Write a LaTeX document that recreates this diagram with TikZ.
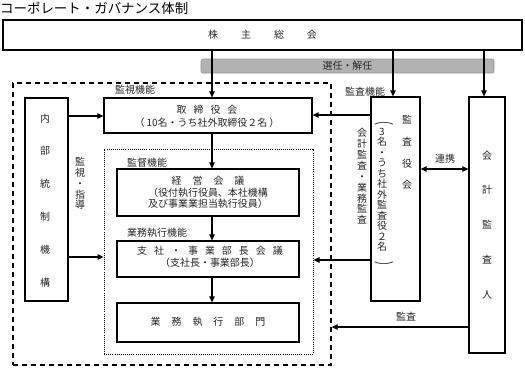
\documentclass[tikz,border=0pt]{standalone}
\usepackage{fontspec}
\usepackage{graphicx}
\setmainfont{Noto Sans CJK JP}
\usetikzlibrary{arrows.meta}
\begin{document}
\begin{tikzpicture}[x=1bp,y=-1bp,
  box/.style={draw=black, line width=1.3bp, inner sep=0pt, fill=white},
  frame/.style={draw=black, inner sep=0pt},
  arr/.style={line width=1.1bp, -{Triangle[length=6bp,width=5.5bp]}},
  darr/.style={line width=1.1bp, {Triangle[length=6bp,width=5.5bp]}-{Triangle[length=6bp,width=5.5bp]}},
  txt/.style={font={\fontsize{10}{13}\selectfont}, text=black!85, inner sep=0pt, align=center},
  lbl/.style={font={\fontsize{10}{12}\selectfont}, text=black!85, inner sep=0pt},
]
\useasboundingbox (0,0) rectangle (525,367);

% title
\node[anchor=west, inner sep=0pt, font={\fontsize{13.5}{14}\selectfont}] (title) at (0,8) {コーポレート・ガバナンス体制};

% shareholders
\node[box, minimum width=519bp, minimum height=30bp] (kabu) at (262.5,35) {};
\node[txt] (kabutxt) at (262.5,35) {株\hspace{23bp}主\hspace{23bp}総\hspace{23bp}会};

% band
\node[fill=black!30, draw=black!42, line width=0.6bp, rounded corners=2bp, minimum width=293bp, minimum height=14bp, inner sep=0pt] (band) at (347.5,66) {};
\node[lbl] (bandtxt) at (347.5,66) {選任・解任};

% frames
\node[frame, dashed, line width=1.3bp, dash pattern=on 5bp off 4bp, minimum width=318bp, minimum height=282bp] (outer) at (172,224) {};
\node[frame, line width=1bp, dash pattern=on 1bp off 1.1bp, minimum width=209bp, minimum height=205bp] (inner) at (208.5,251.5) {};

% left column
\node[box, minimum width=43bp, minimum height=203bp] (naibu) at (46.5,199.5) {};
\node[txt, font={\fontsize{10}{33}\selectfont}] (naibutxt) at (45,200.5) {内\\部\\統\\制\\機\\構};
\node[txt, font={\fontsize{10}{10.8}\selectfont}] (kanshi) at (80,183.5) {監\\視\\・\\指\\導};

% centre column
\node[box, minimum width=208bp, minimum height=35bp] (tori) at (208,115.5) {};
\node[txt] (toritxt) at (207,116.5) {取\hspace{7bp}締\hspace{7bp}役\hspace{7bp}会\\（\hspace{2bp}10名・うち社外取締役２名\hspace{2bp}）};

\node[box, minimum width=182bp, minimum height=47bp] (keiei) at (208,192.5) {};
\node[txt, font={\fontsize{10}{11.5}\selectfont}] (keieitxt) at (208,192.5) {経\hspace{11bp}営\hspace{11bp}会\hspace{11bp}議\\（役付執行役員、本社機構\\及び事業業担当執行役員）};

\node[box, minimum width=182bp, minimum height=36bp] (shisha) at (208,259) {};
\node[txt, font={\fontsize{10}{12}\selectfont}] (shishatxt) at (210,257) {支\hspace{7bp}社\hspace{7bp}・\hspace{7bp}事\hspace{7bp}業\hspace{7bp}部\hspace{7bp}長\hspace{7bp}会\hspace{7bp}議\\（支社長・事業部長）};

\node[box, minimum width=182bp, minimum height=39bp] (gyomu) at (208,322.5) {};
\node[txt] (gyomutxt) at (208,322) {業\hspace{11bp}務\hspace{11bp}執\hspace{11bp}行\hspace{11bp}部\hspace{11bp}門};

% labels
\node[lbl, anchor=west] (l1) at (115,90) {監視機能};
\node[lbl, anchor=west] (l2) at (345,92) {監査機能};
\node[lbl, anchor=west] (l3) at (127,163) {監督機能};
\node[lbl, anchor=west] (l4) at (127,233) {業務執行機能};
\node[lbl] (l5) at (445,159) {連携};
\node[lbl] (l6) at (406,317) {監査};
\node[txt, font={\fontsize{10}{10.9}\selectfont}] (kaikeikansa) at (362,176.5) {会\\計\\監\\査\\・\\業\\務\\監\\査};

% right: kansayakukai
\node[box, minimum width=49bp, minimum height=204bp] (kansa) at (395.5,199) {};
\node[txt, font={\fontsize{10}{21.7}\selectfont}] (kansatxt) at (407,152.5) {監\\査\\役\\会};
\node[txt, font={\fontsize{10}{10.5}\selectfont}] (kansasub) at (382,189.75) {3\\名\\・\\う\\ち\\社\\外\\監\\査\\役\\２\\名};
\node[txt, rotate=-90] (kp1) at (384,120) {\scalebox{1}[2]{（}};
\node[txt, rotate=-90] (kp2) at (384,266) {\scalebox{1}[2]{）}};

% right: kaikei kansanin
\node[box, minimum width=36bp, minimum height=256bp] (kaikei) at (487,225) {};
\node[txt, font={\fontsize{10}{35}\selectfont}] (kaikeitxt) at (487,225) {会\\計\\監\\査\\人};

% arrows
\draw[arr] (kabu.south -| 212,0) -- (tori.north -| 212,0);
\draw[arr] (kabu.south -| 393,0) -- (kansa.north -| 393,0);
\draw[arr] (kabu.south -| 484,0) -- (kaikei.north -| 484,0);
\draw[arr] (tori.south -| 212,0) -- (keiei.north -| 212,0);
\draw[arr] (keiei.south -| 212,0) -- (shisha.north -| 212,0);
\draw[arr] (shisha.south -| 212,0) -- (gyomu.north -| 212,0);
\draw[arr] (naibu.east |- 0,116) -- (tori.west |- 0,116);
\draw[arr] (naibu.east |- 0,257) -- (inner.west |- 0,257);
\draw[arr] (kansa.west |- 0,115) -- (tori.east |- 0,115);
\draw[arr] (kansa.west |- 0,260) -- (inner.east |- 0,260);
\draw[darr] (kansa.east |- 0,169) -- (kaikei.west |- 0,169);
\draw[arr] (kaikei.west |- 0,327) -- (outer.east |- 0,327);
\end{tikzpicture}
\end{document}
